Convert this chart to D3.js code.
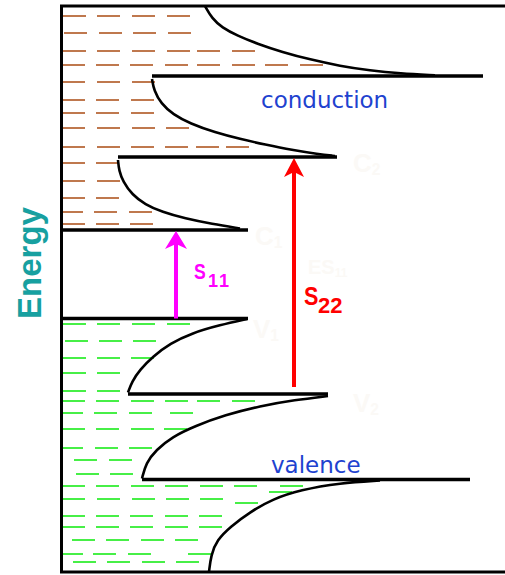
<!DOCTYPE html>
<html>
<head>
<meta charset="utf-8">
<script src="https://cdn.jsdelivr.net/npm/d3@7"></script>
<style>
  html, body { margin: 0; padding: 0; background: #ffffff; }
  svg { display: block; }
</style>
</head>
<body>
<svg id="chart" width="505" height="575"></svg>
<script>
// Density of states of a semiconducting nanotube: energy runs up, DOS runs right.
// Energies of the van Hove singularities (arbitrary units, mid-gap = 0)
const conductionLevels = [0.445, 1.175, 1.985];      // C1, C2, C3
const valenceLevels    = [-0.44, -1.195, -2.05];     // V1, V2, V3
// DOS extent of each singularity spike [start, end]
const conductionSpikes = [[0, 188], [58, 277], [92, 423]];
const valenceSpikes    = [[3, 188], [68, 268], [82, 410]];

// 1/sqrt tails of the DOS between singularities, [dos, energy]
const tailAboveC3 = [[145, 2.685], [152, 2.56], [162, 2.47], [177, 2.39], [198, 2.305], [222, 2.225],
                     [250, 2.15], [280, 2.085], [310, 2.04], [340, 2.01], [375, 1.992]];
const tailAboveC2 = [[92, 1.955], [94, 1.84], [101, 1.71], [113, 1.6], [130, 1.51], [155, 1.42],
                     [180, 1.355], [205, 1.3], [232, 1.245], [258, 1.205], [275, 1.185]];
const tailAboveC1 = [[58, 1.145], [59, 1.04], [63, 0.93], [72, 0.8], [85, 0.7], [102, 0.625],
                     [125, 0.56], [152, 0.505], [180, 0.46]];
const tailBelowV1 = [[187, -0.445], [160, -0.505], [132, -0.585], [110, -0.69], [93, -0.82],
                     [80, -0.95], [72, -1.07], [68, -1.18]];
const tailBelowV2 = [[268, -1.215], [235, -1.255], [200, -1.315], [165, -1.405], [135, -1.515],
                     [112, -1.625], [96, -1.755], [86, -1.885], [82, -2.04]];
const tailBelowV3 = [[320, -2.06], [280, -2.085], [240, -2.155], [213, -2.245], [190, -2.375],
                     [170, -2.525], [157, -2.655], [151, -2.805], [149, -2.975]];

// Occupied / empty states shown as dashed fill: [energy, [dash starts in DOS units]]
const emptyStateRows = [
  [2.585, [3, 37, 72, 107]],
  [2.415, [4, 39, 73, 108]],
  [2.235, [3, 37, 72, 107, 137, 172]],
  [2.095, [2, 36, 70, 105, 137, 172, 205, 240]],
  [1.925, [2, 37, 72]],
  [1.745, [2, 36, 71]],
  [1.615, [2, 36, 71]],
  [1.465, [2, 37, 72, 106]],
  [1.275, [2, 37, 71, 105, 136, 166]],
  [1.115, [2, 36]],
  [0.935, [2, 37]],
  [0.765, [2, 36]],
  [0.625, [0, 34, 69]],
  [0.505, [2, 36, 70]],
  [0.445, [103]]
];
const filledStateRows = [
  [-0.495, [3, 37, 72, 107]],
  [-0.665, [5, 39, 73]],
  [-0.835, [3, 37, 71]],
  [-0.985, [3, 37]],
  [-1.165, [3, 37]],
  [-1.265, [2, 36, 71, 105, 137, 172]],
  [-1.385, [0, 34, 69, 110]],
  [-1.545, [2, 36, 71, 104]],
  [-1.735, [0, 35, 69]],
  [-1.855, [14, 49]],
  [-1.995, [16, 50]],
  [-2.115, [2, 36, 71, 105, 140, 174, 220]],
  [-2.175, [209]],
  [-2.245, [2, 37, 72, 106, 140]],
  [-2.285, [175]],
  [-2.415, [2, 36, 70, 105, 139]],
  [-2.525, [2, 36, 70, 105, 139]],
  [-2.655, [12, 46, 81, 115]],
  [-2.795, [0, 33, 68, 128]],
  [-2.875, [13, 47, 82, 116]]
];

// Optical transitions [dos position, from energy, to energy]
const transitions = [
  { name: "S", sub: "11", dos: 116, from: -0.44, to: 0.445 },
  { name: "S", sub: "22", dos: 234, from: -1.125, to: 1.175 }
];

const W = 505, H = 575;
const svg = d3.select("#chart");
const x = d3.scaleLinear().domain([0, 445]).range([60, 505]);
const y = d3.scaleLinear().domain([-2.975, 2.685]).range([572, 6]);

const DASH = 23;

// dashed fill of the bands
function drawRows(rows, color) {
  const g = svg.append("g").attr("stroke", color).attr("stroke-width", 1.8);
  rows.forEach(([e, starts]) => {
    starts.forEach(s => {
      g.append("line")
        .attr("x1", x(s)).attr("x2", x(s + DASH))
        .attr("y1", y(e)).attr("y2", y(e));
    });
  });
}
drawRows(emptyStateRows, "#b8693a");
drawRows(filledStateRows, "#33ee33");

// faint level tags
const tags = svg.append("g").attr("fill", "#fbf9f6")
  .attr("font-family", "Liberation Sans, Arial, sans-serif").attr("font-weight", "bold");
[["C", "2", 353, 172, 26], ["C", "1", 255, 245, 26], ["V", "1", 253, 338, 26], ["V", "2", 353, 412, 26], ["ES", "11", 308, 274, 20]]
  .forEach(([t, s, tx, ty, fs]) => {
    const tt = tags.append("text").attr("x", tx).attr("y", ty).attr("font-size", fs).text(t);
    tt.append("tspan").attr("font-size", fs * 0.6).attr("dy", 3).text(s);
  });

// DOS curves
const line = d3.line().x(d => x(d[0])).y(d => y(d[1])).curve(d3.curveBasis);
const curves = svg.append("g").attr("fill", "none").attr("stroke", "#000").attr("stroke-width", 2.6);
[tailAboveC3, tailAboveC2, tailAboveC1, tailBelowV1, tailBelowV2, tailBelowV3]
  .forEach(pts => curves.append("path").attr("d", line(pts)));

// singularity spikes
const spikes = svg.append("g").attr("stroke", "#000").attr("stroke-width", 3.5);
conductionLevels.concat(valenceLevels).forEach((e, i) => {
  const ext = conductionSpikes.concat(valenceSpikes)[i];
  spikes.append("line").attr("x1", x(ext[0])).attr("x2", x(ext[1]))
    .attr("y1", y(e)).attr("y2", y(e));
});

// frame (left, top, bottom)
const frame = svg.append("g").attr("stroke", "#000").attr("stroke-width", 3).attr("fill", "none");
frame.append("path").attr("d", `M${W},${y(2.685)}H${x(0) + 1.5}V${y(-2.975)}H${W}`);

// transition arrows
const arrowColors = ["#ff00ff", "#ff0000"];
transitions.forEach((t, i) => {
  const c = arrowColors[i];
  const ax = x(t.dos), y0 = y(t.from), y1 = y(t.to) + 1;
  svg.append("line").attr("x1", ax).attr("x2", ax).attr("y1", y0).attr("y2", y1 + 12)
    .attr("stroke", c).attr("stroke-width", 4);
  const hw = i === 0 ? 11 : 10, hh = i === 0 ? 18 : 19;
  svg.append("path")
    .attr("d", `M${ax},${y1}L${ax - hw},${y1 + hh}L${ax},${y1 + hh - 5}L${ax + hw},${y1 + hh}Z`)
    .attr("fill", c);
});

// transition labels
const lab = svg.append("g").attr("font-family", "Liberation Sans, Arial, sans-serif").attr("font-weight", "bold");
lab.append("text").attr("transform", "translate(194,279) scale(0.8,1)")
  .attr("font-size", 22).attr("fill", "#ff00ff").text(transitions[0].name);
lab.append("text").attr("x", 208).attr("y", 287).attr("font-size", 18).attr("letter-spacing", 2)
  .attr("fill", "#ff00ff").text(transitions[0].sub);
lab.append("text").attr("transform", "translate(304,305) scale(0.83,1)")
  .attr("font-size", 26).attr("fill", "#ff0000").text(transitions[1].name);
lab.append("text").attr("x", 318).attr("y", 313).attr("font-size", 22)
  .attr("fill", "#ff0000").text(transitions[1].sub);

// band names
const bands = svg.append("g").attr("font-family", "DejaVu Sans, Verdana, sans-serif")
  .attr("font-size", 23).attr("fill", "#1e42cf");
bands.append("text").attr("x", 261).attr("y", 108).text("conduction");
bands.append("text").attr("x", 271).attr("y", 473).text("valence");

// axis title
svg.append("text")
  .attr("transform", "translate(41,263) rotate(-90)")
  .attr("text-anchor", "middle")
  .attr("font-family", "Liberation Sans, Arial, sans-serif")
  .attr("font-weight", "bold").attr("font-size", 33)
  .attr("fill", "#17a0a0")
  .text("Energy");
</script>
</body>
</html>
